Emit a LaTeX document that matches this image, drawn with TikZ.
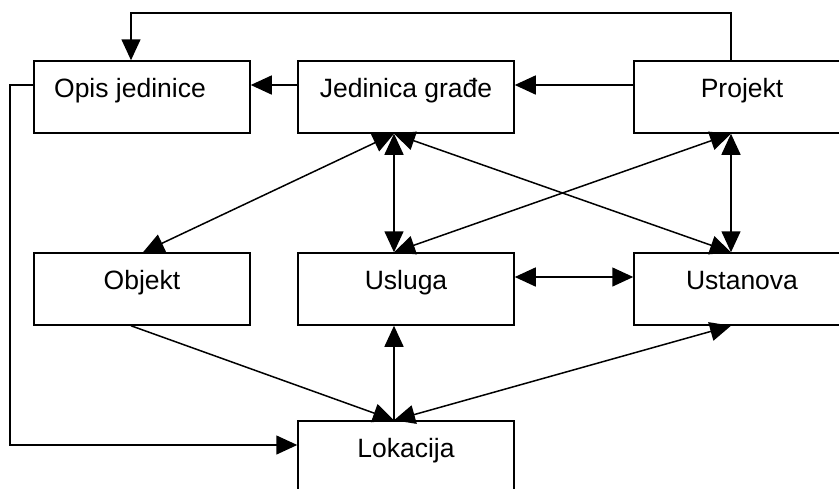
\documentclass[tikz,border=0pt]{standalone}
\usepackage{fontspec}
\setmainfont{Liberation Sans}
\usetikzlibrary{arrows.meta}
\begin{document}
\begin{tikzpicture}[x=1pt,y=-1pt,
  box/.style={draw, line width=1.5pt, minimum width=216pt, minimum height=72pt,
    inner sep=0pt, text height=0pt, text depth=0pt, font=\fontsize{26.5}{30}\selectfont},
  conn/.style={line width=1.5pt, line join=miter},
  arr/.style={-{Triangle[length=21pt,width=19pt]}},
  dbl/.style={{Triangle[length=21pt,width=19pt]}-{Triangle[length=21pt,width=19pt]}}]
\useasboundingbox (0,0) rectangle (839,488);
\clip (0,0) rectangle (839,488);
\fill[white] (0,0) rectangle (839,488);
% boxes
\node[box] (opis) at (142,97) {Opis jedinice\hspace*{24pt}};
\node[box] (jed)  at (406,97) {Jedinica građe};
\node[box] (proj) at (742,97) {Projekt};
\node[box] (obj)  at (142,289) {Objekt};
\node[box] (usl)  at (406,289) {Usluga};
\node[box] (ust)  at (742,289) {Ustanova};
\node[box] (lok)  at (406,457) {Lokacija};
% helper points
\coordinate (tr) at (731,13);
\coordinate (tl) at (131,13);
\coordinate (l1) at (10,85);
\coordinate (l2) at (10,445);
\coordinate (A) at ([xshift=-12pt]jed.south);
\coordinate (B) at ([xshift=-12pt]usl.north);
\coordinate (C) at ([xshift=-11pt]proj.south);
\coordinate (D) at ([xshift=-11pt]ust.north);
\coordinate (E) at ([xshift=-12pt]lok.north);
% connectors
\draw[conn,arr] (proj.north -| tr) -- (tr) -- (tl) -- (opis.north -| tl);
\draw[conn,arr] ([yshift=12pt]jed.west) -- ([yshift=12pt]opis.east);
\draw[conn,arr] ([yshift=12pt]proj.west) -- ([yshift=12pt]jed.east);
\draw[conn,arr] ([yshift=12pt]opis.west) -- (l1) -- (l2) -- (lok.west |- l2);
\draw[conn,dbl] (A) -- ([xshift=1pt]obj.north);
\draw[conn,dbl] (A) -- (B);
\draw[conn,dbl] (A) -- (D);
\draw[conn,dbl] (B) -- (C);
\draw[conn,dbl] (C) -- (D);
\draw[conn,dbl] ([yshift=12pt]usl.east) -- ([yshift=12pt]ust.west);
\draw[conn,arr] ([xshift=-11pt]obj.south) -- (E);
\draw[conn,arr] (E) -- ([xshift=-12pt]usl.south);
\draw[conn,dbl] (E) -- ([xshift=-11pt]ust.south);
\end{tikzpicture}
\end{document}
